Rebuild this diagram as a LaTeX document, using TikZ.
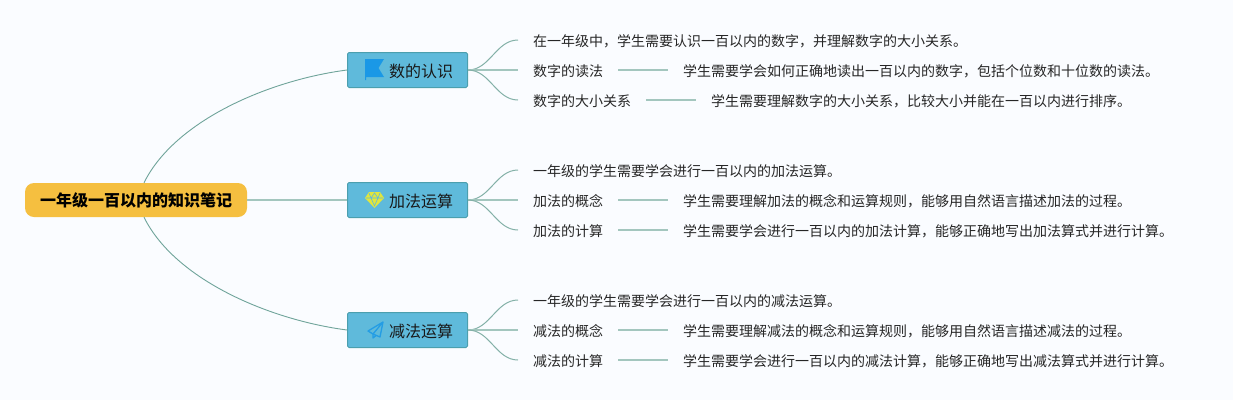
\documentclass[tikz,border=0pt]{standalone}
\usepackage{fontspec}
\setmainfont{Noto Sans CJK SC}
\definecolor{paper}{HTML}{FAFCFF}
\definecolor{rootfill}{HTML}{F5BF40}
\definecolor{topicfill}{HTML}{5FBADB}
\definecolor{topicline}{HTML}{4B9FAE}
\definecolor{linkdark}{HTML}{6FA49A}
\definecolor{linklight}{HTML}{A3C6BE}
\definecolor{flagblue}{HTML}{1A98E6}
\definecolor{gemyellow}{HTML}{E2E63C}
\tikzset{
    rootbox/.style={fill=rootfill, rounded corners=9pt, minimum width=222pt, minimum height=34pt, inner sep=0pt, text height=15.5pt, text depth=2pt, font=\bfseries\fontsize{16pt}{16pt}\selectfont, text=black},
    topicbox/.style={draw=topicline, line width=1pt, fill=topicfill, rounded corners=1.5pt, minimum width=120pt, minimum height=35pt, inner sep=0pt, text height=16pt, text depth=2pt, font=\fontsize{16pt}{16pt}\selectfont, text=black!90},
    leafbox/.style={anchor=west, inner xsep=15pt, inner ysep=0pt, text height=14pt, text depth=1pt, font=\fontsize{14pt}{14pt}\selectfont, text=black!85},
    thinlink/.style={linkdark, line width=0.9pt},
    twig/.style={linkdark!60!linklight, line width=1pt},
    stem/.style={linklight, line width=1.5pt}
}
\begin{document}
\begin{tikzpicture}[x=1pt, y=-1pt]
    \useasboundingbox[fill=paper] (0,0) rectangle (1233,400);

    \node[rootbox] (root) at (136,200) {一年级一百以内的知识笔记};

    \node[topicbox] (numbers) at (407.5,70) {\hspace*{27pt}数的认识};
    \node[topicbox] (adding) at (407.5,200) {\hspace*{27pt}加法运算};
    \node[topicbox] (taking) at (407.5,330) {\hspace*{27pt}减法运算};

    \node[leafbox] (numbersa) at (518,40) {在一年级中，学生需要认识一百以内的数字，并理解数字的大小关系。};
    \node[leafbox] (numbersb) at (518,70) {数字的读法};
    \node[leafbox] (numbersc) at (518,100) {数字的大小关系};
    \node[leafbox] (numbersbb) at (668,70) {学生需要学会如何正确地读出一百以内的数字，包括个位数和十位数的读法。};
    \node[leafbox] (numberscc) at (696,100) {学生需要理解数字的大小关系，比较大小并能在一百以内进行排序。};

    \node[leafbox] (addinga) at (518,170) {一年级的学生需要学会进行一百以内的加法运算。};
    \node[leafbox] (addingb) at (518,200) {加法的概念};
    \node[leafbox] (addingc) at (518,230) {加法的计算};
    \node[leafbox] (addingbb) at (668,200) {学生需要理解加法的概念和运算规则，能够用自然语言描述加法的过程。};
    \node[leafbox] (addingcc) at (668,230) {学生需要学会进行一百以内的加法计算，能够正确地写出加法算式并进行计算。};

    \node[leafbox] (takinga) at (518,300) {一年级的学生需要学会进行一百以内的减法运算。};
    \node[leafbox] (takingb) at (518,330) {减法的概念};
    \node[leafbox] (takingc) at (518,360) {减法的计算};
    \node[leafbox] (takingbb) at (668,330) {学生需要理解减法的概念和运算规则，能够用自然语言描述减法的过程。};
    \node[leafbox] (takingcc) at (668,360) {学生需要学会进行一百以内的减法计算，能够正确地写出减法算式并进行计算。};

    \draw[thinlink] ([xshift=8pt]root.north) .. controls (175,120) and (270,80) .. (numbers.west);
    \draw[stem] (root.east) -- (adding.west);
    \draw[thinlink] ([xshift=8pt]root.south) .. controls (175,280) and (270,320) .. (taking.west);

    \foreach \t in {numbers,adding,taking} {
        \draw[twig] (\t.east) .. controls +(22,0) and +(-22,0) .. (\t a.west);
        \draw[stem] (\t.east) -- (\t b.west);
        \draw[twig] (\t.east) .. controls +(22,0) and +(-22,0) .. (\t c.west);
        \draw[stem] (\t b.east) -- (\t bb.west);
        \draw[stem] (\t c.east) -- (\t cc.west);
    }

    % flag
    \fill[flagblue] (365,59) -- (384,59) -- (378.5,68) -- (384,77) -- (366,77) -- (366,80) -- (365,80) -- cycle;

    % diamond
    \fill[gemyellow] (369,192) -- (380,192) -- (384,198) -- (374.5,208) -- (365,198) -- cycle;
    \draw[topicfill, line width=0.6pt] (366,198) -- (383,198) (369,193) -- (371,198) -- (374.5,206) -- (378,198) -- (380,193) (371,198) -- (374.5,193) -- (378,198);

    % plane
    \draw[flagblue!85!topicfill, line width=1.3pt, line join=round] (383,322) -- (368,331) -- (373,334) -- (383,322) -- (380,337) -- (373,334) -- (373,338) -- (376,335.5);
\end{tikzpicture}
\end{document}
